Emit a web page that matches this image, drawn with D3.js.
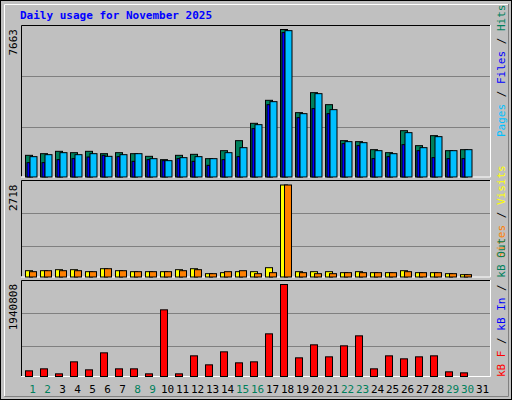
<!DOCTYPE html>
<html><head><meta charset="utf-8">
<script src="https://cdn.jsdelivr.net/npm/d3@7"></script>
<style>body{margin:0;background:#fff}svg{display:block}</style>
</head><body>
<svg id="chart" width="512" height="400"></svg>
<script>
const days = d3.range(1, 32);
const weekend = [1, 2, 8, 9, 15, 16, 22, 23, 29, 30];
const hits  = [1126,1212,1334,1264,1334,1212,1264,1212,1074,901,1126,1178,953,1368,1888,2789,3984,7663,3343,4382,3758,1888,1836,1420,1264,2407,1628,2148,1368,1420,0];
const files = [1057,1160,1264,1160,1212,1074,1160,1212,953,849,1005,1057,953,1264,1524,2719,3914,7603,3291,4330,3499,1836,1784,1368,1212,2304,1524,2096,1368,1420,0];
const pages = [745,745,901,953,1039,1126,1057,814,901,849,953,814,606,901,1057,2511,3758,7500,3083,3551,3291,1732,1628,953,1057,1680,1368,1005,953,953,0];
const visits = [186,186,216,216,157,245,186,157,157,157,216,245,98,128,157,157,275,2718,157,157,157,128,157,128,128,186,128,128,98,69,0];
const sites  = [157,186,186,186,157,245,186,157,157,157,186,216,98,157,186,98,128,2718,128,98,98,128,128,128,128,157,128,128,98,69,0];
const kbytes = [119544,161736,56256,309408,140640,499272,161736,161736,56256,1406400,56256,435984,246120,520368,288312,309408,900096,1940808,393792,668040,414888,646944,857904,161736,435984,372696,414888,435984,98448,77352,0];

const svg = d3.select("#chart");
const mono = "DejaVu Sans Mono";

// frame
svg.append("rect").attr("x", 0.5).attr("y", 0.5).attr("width", 511).attr("height", 399)
  .attr("fill", "#c0c0c0").attr("stroke", "#000");
svg.append("path").attr("d", "M4.5,396V4.5H508").attr("fill", "none").attr("stroke", "#fff");
svg.append("path").attr("d", "M4.5,396.5H508.5V4").attr("fill", "none").attr("stroke", "#808080");

svg.append("text").attr("x", 20).attr("y", 19).attr("font-family", mono).attr("font-weight", "bold")
  .attr("font-size", 11).attr("fill", "#0000ff").text("Daily usage for November 2025");

const x = d3.scaleBand().domain(days).range([25, 25 + 15 * 31]);
const L = 21, R = 490;

function panel(top, bottom, yTop, maxVal, grid) {
  svg.append("rect").attr("x", L).attr("y", top).attr("width", R - L).attr("height", bottom - top).attr("fill", "#c0c0c0");
  grid.forEach(g => svg.append("line").attr("x1", L + 1).attr("x2", R).attr("y1", g).attr("y2", g).attr("stroke", "#808080"));
  svg.append("path").attr("d", `M${L + 0.5},${bottom}V${top + 0.5}H${R}`).attr("fill", "none").attr("stroke", "#000");
  svg.append("path").attr("d", `M${L},${bottom + 0.5}H${R + 0.5}V${top}`).attr("fill", "none").attr("stroke", "#fff");
  svg.append("text").attr("transform", `translate(17,${yTop}) rotate(-90)`).attr("text-anchor", "end")
    .attr("font-family", mono).attr("font-size", 11).text(maxVal);
  return d3.scaleLinear().domain([0, maxVal]).range([bottom, yTop]);
}

function bars(data, y, dx, w, fill, stroke) {
  svg.append("g").selectAll("rect").data(data.map((v, i) => [days[i], v]).filter(d => d[1] > 0)).join("rect")
    .attr("x", d => x(d[0]) + dx + 0.5).attr("y", d => y(d[1]) + 0.5)
    .attr("width", w).attr("height", d => y(0) - y(d[1]))
    .attr("fill", fill).attr("stroke", stroke || "#000");
}

function legend(xPos, yBottom, parts) {
  const t = svg.append("text").attr("transform", `translate(${xPos},${yBottom}) rotate(-90)`)
    .attr("font-family", mono).attr("font-size", 11);
  parts.forEach(p => t.append("tspan").attr("fill", p[1]).text(p[0]));
}

// top: hits / files / pages
const y1 = panel(25, 176.5, 29, 7663, [76.5, 127.5]);
bars(hits, y1, 0, 7, "#00805c");
bars(pages, y1, 1.5, 3, "#0000ff", "#000");
bars(files, y1, 4.5, 7, "#00c0ff");
legend(505, 137, [["Pages", "#00c0ff"], [" / ", "#000"], ["Files", "#0000ff"], [" / ", "#000"], ["Hits", "#00805c"]]);

// middle: visits / sites
const y2 = panel(180, 276.5, 184.5, 2718, [213.5, 246.5]);
bars(visits, y2, 0, 7, "#ffff00");
bars(sites, y2, 4, 7, "#ff8000");
legend(505, 258, [["Sites", "#ff8000"], [" / ", "#000"], ["Visits", "#ffff00"]]);

// bottom: kbytes
const y3 = panel(280, 376, 284, 1940808, [313.5, 346.5]);
bars(kbytes, y3, 0, 7, "#ff0000");
legend(505, 377, [["kB F", "#ff0000"], [" / ", "#000"], ["kB In", "#0000ff"], [" / ", "#000"], ["kB Out", "#00805c"]]);

svg.append("g").selectAll("text").data(days).join("text")
  .attr("x", d => x(d) + 7.5).attr("y", 393).attr("text-anchor", "middle")
  .attr("font-family", mono).attr("font-size", 11)
  .attr("fill", d => weekend.includes(d) ? "#00805c" : "#000").text(d => d);
</script>
</body></html>
